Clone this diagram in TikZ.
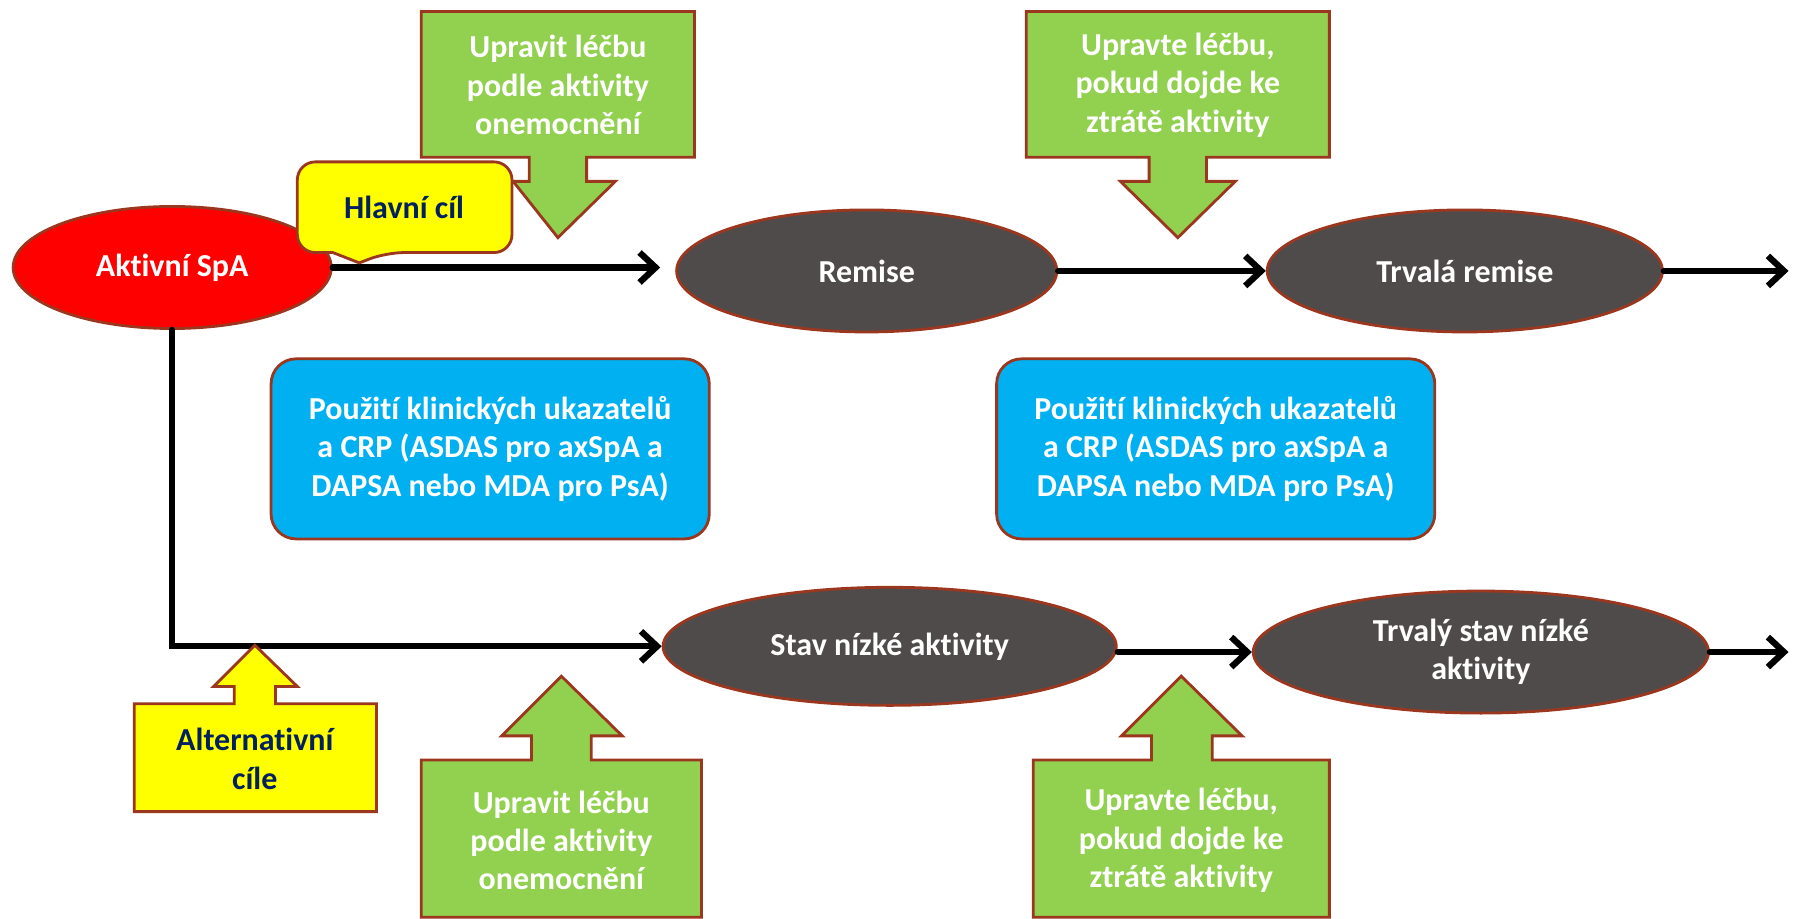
\documentclass[tikz,border=0pt]{standalone}
\usepackage{fontspec}
\setmainfont{Carlito}[Ligatures=NoCommon]
\usetikzlibrary{shapes.geometric,arrows.meta}

\definecolor{hneda}{RGB}{155,55,30}
\definecolor{zelena}{RGB}{146,208,80}
\definecolor{modra}{RGB}{0,176,240}
\definecolor{seda}{RGB}{80,75,75}
\definecolor{tmodra}{RGB}{0,32,96}
\definecolor{zluta}{RGB}{255,255,0}

\begin{document}
\begin{tikzpicture}[x=0.01148cm,y=-0.01148cm,line width=1.8pt,
  font=\bfseries\fontsize{9.1}{10.9}\selectfont,
  stav/.style={ellipse,draw=hneda,line width=0.8pt,fill=seda,text=white,inner sep=0pt,align=center},
  modry/.style={rectangle,rounded corners=2.5mm,draw=hneda,line width=0.8pt,fill=modra,text=white,
    align=center,minimum width=4.38cm,minimum height=1.8cm},
  obrys/.style={draw=hneda,line width=0.8pt},
  sipka/.style={-{Straight Barb[length=1.6mm,width=3mm]},line cap=round}]
\useasboundingbox (0,0) rectangle (1568,800);

% stavy
\node [stav,fill=red,minimum width=3.18cm,minimum height=1.22cm] (aktiv) at (150,233) {Aktivní SpA};
\node [stav,minimum width=3.80cm,minimum height=1.22cm] (remise) at (755,236) {Remise};
\node [stav,minimum width=3.95cm,minimum height=1.22cm] (trvrem) at (1276,236) {Trvalá remise};
\node [stav,minimum width=4.53cm,minimum height=1.18cm] (nizka) at (775,563) {Stav nízké aktivity};
\node [stav,minimum width=4.55cm,minimum height=1.22cm] (trvniz) at (1290,568) {Trvalý stav nízké\\aktivity};

\coordinate (konec1) at (1558,236);
\coordinate (konec2) at (1558,568);

% spojnice
\draw[sipka,shorten >=0.15cm] (aktiv.east) -- (aktiv.east -| remise.west);
\draw[sipka] (remise.east) -- (trvrem.west);
\draw[sipka] (trvrem.east) -- (konec1);
\draw[sipka] (aktiv.south) |- (nizka.west);
\draw[sipka] (nizka.east |- trvniz.west) -- (trvniz.west);
\draw[sipka] (trvniz.east) -- (konec2);

% modre ramecky
\node [modry] (ukaz1) at (427,391) {Použití klinických ukazatelů\\a CRP (ASDAS pro axSpA a\\DAPSA nebo MDA pro PsA)};
\node [modry] (ukaz2) at (1059,391) {Použití klinických ukazatelů\\a CRP (ASDAS pro axSpA a\\DAPSA nebo MDA pro PsA)};

% zelene sipky nahore
\draw[obrys,fill=zelena] (367,10) -- (605,10) -- (605,137) -- (511,137) -- (511,158) -- (536,158)
  -- (486,207) -- (447,158) -- (461,158) -- (461,137) -- (367,137) -- cycle;
\node [text=white,align=center] (upr1) at (486,74) {Upravit léčbu\\podle aktivity\\onemocnění};
\draw[obrys,fill=zelena] (894,10) -- (1158,10) -- (1158,137) -- (1051,137) -- (1051,158) -- (1076,158)
  -- (1026,207) -- (976,158) -- (1001,158) -- (1001,137) -- (894,137) -- cycle;
\node [text=white,align=center] (upr2) at (1026,74) {Upravte léčbu,\\pokud dojde ke\\ztrátě aktivity};

% zelene sipky dole
\draw[obrys,fill=zelena] (367,799) -- (367,662) -- (463,662) -- (463,641) -- (437,641) -- (489,589)
  -- (542,641) -- (515,641) -- (515,662) -- (611,662) -- (611,799) -- cycle;
\node [text=white,align=center] (upr3) at (489,732) {Upravit léčbu\\podle aktivity\\onemocnění};
\draw[obrys,fill=zelena] (900,799) -- (900,662) -- (1003,662) -- (1003,641) -- (977,641) -- (1029,589)
  -- (1082,641) -- (1056,641) -- (1056,662) -- (1158,662) -- (1158,799) -- cycle;
\node [text=white,align=center] (upr4) at (1029,732) {Upravte léčbu,\\pokud dojde ke\\ztrátě aktivity};

% cile
\draw[obrys,fill=zluta,rounded corners=1.8mm] (259,180) |- (446,141) |- (336,220)
  [sharp corners] -- (313,229) -- (290,220) [rounded corners=1.8mm] -| (259,180) -- cycle;
\node [text=tmodra] (hlavni) at (352,181) {Hlavní cíl};
\draw[obrys,fill=zluta] (117,707) -- (117,613) -- (204,613) -- (204,598) -- (186,598) -- (222,562)
  -- (259,598) -- (240,598) -- (240,613) -- (328,613) -- (328,707) -- cycle;
\node [text=tmodra,align=center] (alter) at (222,661) {Alternativní\\cíle};

\end{tikzpicture}
\end{document}
